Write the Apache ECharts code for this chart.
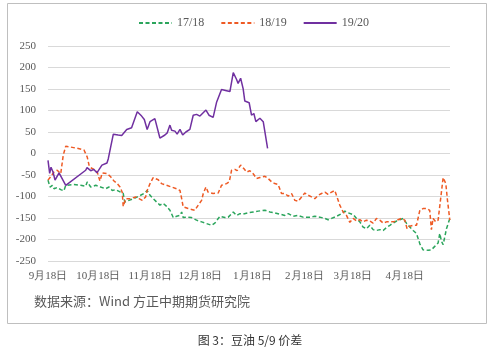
<!DOCTYPE html>
<html>
<head>
<meta charset="utf-8">
<script src="https://cdn.jsdelivr.net/npm/echarts@6/dist/echarts.min.js"></script>
<style>html,body{margin:0;padding:0;background:#fff}#c{width:500px;height:354px}</style>
</head>
<body>
<div id="c"></div>
<script>
// x = days since 9月18日
var tickDays = [0, 30, 61, 91, 122, 153, 182, 213];
var tickLabels = ['9月18日', '10月18日', '11月18日', '12月18日', '1月18日', '2月18日', '3月18日', '4月18日'];
var yTicks = [-250, -200, -150, -100, -50, 0, 50, 100, 150, 200, 250];
var seriesNames = ['17/18', '18/19', '19/20'];

var s1718 = [[0,-62],[1.2,-78],[2.6,-74],[3.6,-82],[5.5,-79],[7.6,-84],[9.5,-87],[10.6,-74],[15.5,-72],[19.5,-74],[22.5,-76],[23.4,-66],[25.5,-78],[28.5,-74],[31.4,-78],[34.4,-82],[36.4,-78],[38.4,-86],[40.4,-84],[43.4,-90],[44.9,-93],[45.8,-113],[48.3,-109],[51.3,-105],[55.3,-97],[57.3,-93],[59.2,-86],[60.9,-97],[62.8,-105],[64.9,-113],[66.8,-120],[68.8,-116],[70.8,-123],[72.8,-132],[74.8,-149],[76.8,-146],[78.8,-144],[79.8,-136],[80.7,-149],[82.8,-148],[85.7,-149],[88.7,-155],[91.7,-159],[94.7,-163],[97.7,-167],[99.6,-162],[102.6,-146],[105.6,-149],[107.6,-148],[110.6,-136],[112.6,-144],[114.6,-140],[116.5,-141],[119.5,-138],[122.5,-136],[125.5,-134],[129.5,-132],[132.5,-136],[135.4,-138],[138.4,-141],[141.4,-144],[143.4,-140],[146.4,-146],[149.3,-144],[152.3,-148],[156.3,-148],[159.3,-146],[162.3,-148],[165.3,-151],[167.2,-154],[169.3,-151],[172.3,-146],[175.2,-140],[177.2,-134],[179.2,-138],[182.2,-142],[184.2,-151],[186.2,-159],[188.1,-171],[190.1,-175],[192.1,-167],[194.1,-177],[196.1,-179],[198.1,-177],[200.1,-179],[202.1,-172],[204.1,-167],[206.0,-162],[208.1,-157],[210.0,-154],[212.0,-151],[214.0,-162],[216.0,-171],[218.0,-179],[220.0,-186],[222.0,-210],[223.9,-224],[226.9,-225],[228.9,-224],[230.9,-216],[232.9,-208],[233.9,-186],[234.9,-204],[235.9,-212],[237.9,-175],[239.9,-151]];

var s1819 = [[0,-62],[1.6,-54],[3.6,-43],[5.5,-39],[7.6,-47],[9.1,-4],[10.6,17],[13.5,15],[17.5,12],[21.5,8],[23.4,-8],[24.5,-27],[25.5,-33],[27.4,-37],[29.4,-43],[31.0,-64],[32.4,-45],[35.4,-47],[37.4,-54],[39.4,-64],[41.3,-70],[43.0,-78],[44.3,-90],[44.9,-123],[46.4,-105],[49.3,-105],[52.3,-101],[54.3,-105],[56.3,-109],[58.3,-101],[59.2,-86],[60.9,-70],[62.8,-56],[63.8,-58],[65.8,-61],[67.8,-70],[70.8,-74],[73.8,-78],[76.8,-82],[78.8,-86],[79.8,-105],[80.7,-124],[83.7,-128],[85.7,-130],[87.7,-132],[89.7,-120],[91.7,-109],[92.7,-93],[94.3,-78],[95.6,-90],[98.6,-93],[101.6,-92],[103.6,-74],[106.6,-70],[108.2,-66],[109.6,-39],[111.6,-37],[112.9,-40],[115.0,-27],[116.9,-35],[118.6,-43],[120.5,-40],[122.5,-47],[124.5,-58],[126.5,-56],[127.5,-60],[129.5,-53],[131.4,-58],[133.5,-66],[135.4,-70],[137.4,-72],[139.4,-93],[141.4,-93],[143.4,-99],[145.4,-93],[147.4,-109],[149.3,-111],[151.4,-101],[153.3,-92],[155.3,-97],[157.3,-101],[159.3,-105],[161.3,-97],[163.3,-93],[165.3,-90],[167.2,-95],[169.3,-90],[171.2,-86],[172.9,-105],[174.2,-120],[176.2,-136],[178.2,-144],[180.2,-160],[182.2,-151],[184.2,-157],[186.2,-154],[188.1,-159],[190.1,-155],[192.1,-157],[194.1,-162],[196.1,-151],[198.1,-155],[200.1,-162],[202.1,-159],[204.1,-159],[207.0,-158],[209.0,-154],[211.0,-151],[213.0,-155],[214.4,-175],[216.0,-169],[218.0,-167],[220.0,-167],[222.0,-132],[223.9,-128],[226.3,-128],[227.9,-132],[228.9,-177],[229.9,-151],[231.5,-159],[232.9,-155],[234.3,-109],[235.9,-56],[237.5,-70],[238.5,-109],[239.9,-155]];

var s1920 = [[0,-16],[1.0,-46],[1.8,-32],[3.0,-43],[4.2,-62],[6.6,-45],[10.6,-74],[22.5,-39],[23.3,-33],[25.5,-40],[27.4,-37],[29.2,-45],[32.2,-27],[35.2,-22],[36.0,-12],[37.4,15],[39.0,45],[41.9,43],[44.0,42],[47.0,56],[49.9,60],[50.9,61],[53.3,97],[55.9,87],[57.5,79],[59.2,56],[60.9,74],[63.8,81],[64.9,78],[66.8,36],[69.8,43],[71.2,48],[72.8,66],[73.8,54],[75.8,52],[77.1,45],[78.8,56],[80.4,43],[82.3,50],[84.7,56],[86.7,89],[88.7,91],[90.7,87],[91.7,84],[94.3,101],[96.1,89],[98.6,84],[100.7,120],[101.6,116],[103.6,149],[106.6,146],[108.6,144],[110.6,188],[112.6,172],[113.5,163],[115.0,175],[116.5,151],[117.5,122],[120.1,118],[121.5,89],[122.9,93],[124.1,74],[126.5,82],[128.5,74],[129.5,70],[131.1,12]];

var colors = ['#2ba55c', '#ee5a24', '#7030a0'];
var serif = 'Liberation Serif';

var chart = echarts.init(document.getElementById('c'), null, {renderer: 'canvas'});
chart.setOption({
  backgroundColor: '#ffffff',
  animation: false,
  color: colors,
  legend: {
    top: 12, left: 133,
    itemWidth: 33, itemHeight: 8, itemGap: 16,
    itemStyle: {opacity: 0},
    textStyle: {fontFamily: serif, fontSize: 12, color: '#595959'},
    data: seriesNames
  },
  grid: {left: 48, right: 50, top: 46, bottom: 93},
  xAxis: {
    type: 'value', min: 0, max: 240,
    splitLine: {show: false},
    axisLine: {show: false},
    axisTick: {show: false},
    axisLabel: {
      customValues: tickDays,
      margin: 10,
      fontFamily: serif, fontSize: 11, color: '#595959',
      formatter: function (v) { var i = tickDays.indexOf(Math.round(v)); return i >= 0 ? tickLabels[i] : ''; }
    }
  },
  yAxis: {
    type: 'value', min: -250, max: 250, interval: 50,
    axisLine: {show: false},
    axisTick: {show: false},
    splitLine: {lineStyle: {color: '#d9d9d9', width: 1}},
    axisLabel: {margin: 12, fontFamily: serif, fontSize: 11, color: '#595959'}
  },
  series: [
    {name: seriesNames[0], type: 'line', data: s1718, symbol: 'none', lineStyle: {width: 1.5, type: [4, 2.5], color: colors[0]}, itemStyle: {color: colors[0]}},
    {name: seriesNames[1], type: 'line', data: s1819, symbol: 'none', lineStyle: {width: 1.5, type: [4, 2.5], color: colors[1]}, itemStyle: {color: colors[1]}},
    {name: seriesNames[2], type: 'line', data: s1920, symbol: 'none', lineStyle: {width: 1.5, color: colors[2]}, itemStyle: {color: colors[2]}}
  ],
  graphic: [
    {type: 'rect', shape: {x: 7.5, y: 3.5, width: 479, height: 320}, style: {fill: 'none', stroke: '#bfbfbf', lineWidth: 1}, z: -1},
    {type: 'text', left: 34, top: 295, style: {text: '数据来源：Wind 方正中期期货研究院', font: "13px 'Noto Sans CJK SC', sans-serif", fill: '#595959'}},
    {type: 'text', left: 'center', top: 334, style: {text: '图 3：豆油 5/9 价差', font: "12px 'Noto Sans CJK SC', sans-serif", fill: '#333333'}}
  ]
});
</script>
</body>
</html>
